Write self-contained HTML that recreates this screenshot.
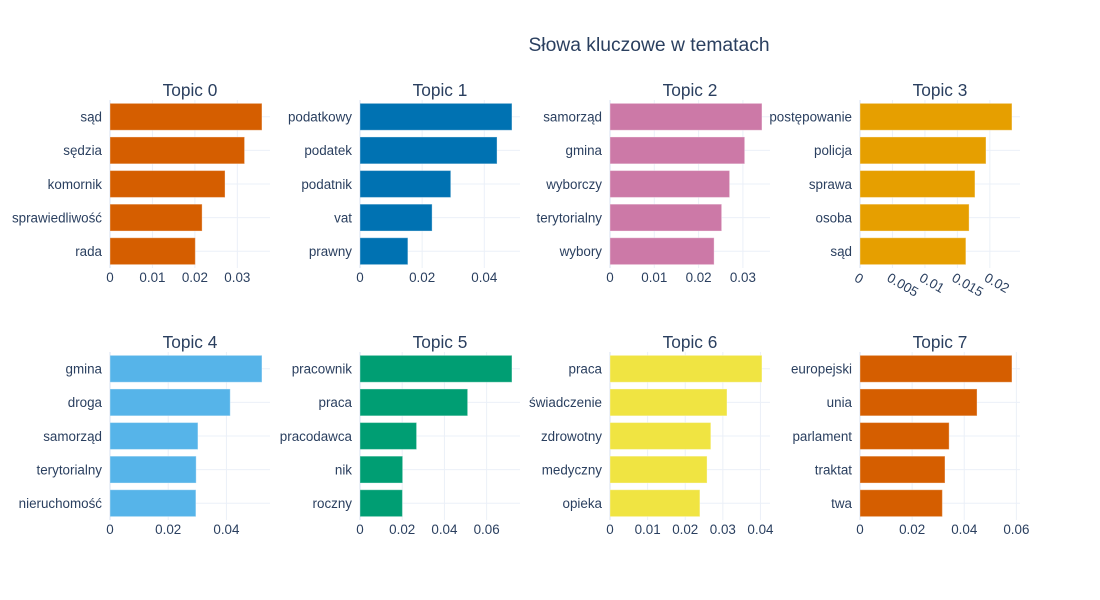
<!DOCTYPE html>
<html><head><meta charset="utf-8"><style>
html,body{margin:0;padding:0;background:#fff;}
svg{display:block;font-family:"Liberation Sans",Arial,sans-serif;}
</style></head><body>
<svg id="chart" width="1100" height="600">
<rect width="1100" height="600" fill="#fff"/>
<text x="649" y="51" text-anchor="middle" font-size="19.3" fill="#2a3f5f">Słowa kluczowe w tematach</text>
</svg>
<script>
const topicTitles = ["Topic 0","Topic 1","Topic 2","Topic 3","Topic 4","Topic 5","Topic 6","Topic 7"];
const words0 = ["sąd","sędzia","komornik","sprawiedliwość","rada"];
const values0 = [0.0358,0.0317,0.0271,0.0217,0.0201];
const words1 = ["podatkowy","podatek","podatnik","vat","prawny"];
const values1 = [0.0489,0.0441,0.0292,0.0232,0.0154];
const words2 = ["samorząd","gmina","wyborczy","terytorialny","wybory"];
const values2 = [0.0343,0.0304,0.0270,0.0252,0.0235];
const words3 = ["postępowanie","policja","sprawa","osoba","sąd"];
const values3 = [0.0234,0.0194,0.0177,0.0168,0.0163];
const words4 = ["gmina","droga","samorząd","terytorialny","nieruchomość"];
const values4 = [0.0522,0.0413,0.0302,0.0296,0.0295];
const words5 = ["pracownik","praca","pracodawca","nik","roczny"];
const values5 = [0.0720,0.0510,0.0268,0.0202,0.0201];
const words6 = ["praca","świadczenie","zdrowotny","medyczny","opieka"];
const values6 = [0.0404,0.0311,0.0268,0.0258,0.0239];
const words7 = ["europejski","unia","parlament","traktat","twa"];
const values7 = [0.0583,0.0449,0.0342,0.0326,0.0316];
const tickSteps = [0.01,0.02,0.01,0.005,0.02,0.02,0.01,0.02];
const colors = ["#D55E00","#0072B2","#CC79A7","#E69F00","#56B4E9","#009E73","#F0E442","#D55E00"];

const allWords=[words0,words1,words2,words3,words4,words5,words6,words7];
const allValues=[values0,values1,values2,values3,values4,values5,values6,values7];
const svg=document.getElementById('chart');
const NS='http://www.w3.org/2000/svg';
function mk(tag,attrs,parent){const e=document.createElementNS(NS,tag);for(const k in attrs)e.setAttribute(k,attrs[k]);(parent||svg).appendChild(e);return e;}
const W=160,H=168,FS=13.4;
for(let p=0;p<8;p++){
  const col=p%4,row=Math.floor(p/4);
  const x0=110+250*col, y0=row===0?100:352;
  const g=mk('g',{});
  
  
  const vals=allValues[p],words=allWords[p];
  const xmax=Math.max(...vals)*1.053;
  const sx=v=>x0+v/xmax*W;
  const band=H/words.length;
  const sy=i=>y0+band*(i+0.5);
  const step=tickSteps[p];
  const ticks=[];
  for(let t=0;t<=xmax+1e-9;t+=step)ticks.push(+t.toFixed(4));
  ticks.forEach(t=>{mk('line',{x1:sx(t),x2:sx(t),y1:y0,y2:y0+H,stroke:'#EBF0F8','stroke-width':t===0?2:1},g);});
  words.forEach((w,i)=>{mk('line',{x1:x0,x2:x0+W,y1:sy(i),y2:sy(i),stroke:'#EBF0F8','stroke-width':1},g);});
  vals.forEach((v,i)=>{
    const bh=band*0.8;
    const r=mk('rect',{x:sx(0),y:sy(i)-bh/2,width:sx(v)-sx(0),height:bh,fill:colors[p],stroke:'rgba(255,255,255,0.35)','stroke-width':1},g);
    
    
    const lb=mk('text',{x:x0-8,y:sy(i)+4.8,'text-anchor':'end','font-size':FS,fill:'#2a3f5f'},g);
    lb.textContent=words[i];
    
    
  });
  ticks.forEach(t=>{
    const s=String(t);
    let tx;
    if(p===3){
      const ax=sx(t)-4, ay=y0+H+8;
      tx=mk('text',{x:ax,y:ay+5,'text-anchor':'start','font-size':FS,fill:'#2a3f5f',transform:`rotate(30 ${ax} ${ay})`},g);
    } else {
      tx=mk('text',{x:sx(t),y:y0+H+14,'text-anchor':'middle','font-size':FS,fill:'#2a3f5f'},g);
    }
    tx.textContent=s;
    
    
  });
  const tt=mk('text',{x:x0+W/2,y:y0-4,'text-anchor':'middle','font-size':17.3,fill:'#2a3f5f'},g);
  tt.textContent=topicTitles[p];
  
  
}
</script>
</body></html>
